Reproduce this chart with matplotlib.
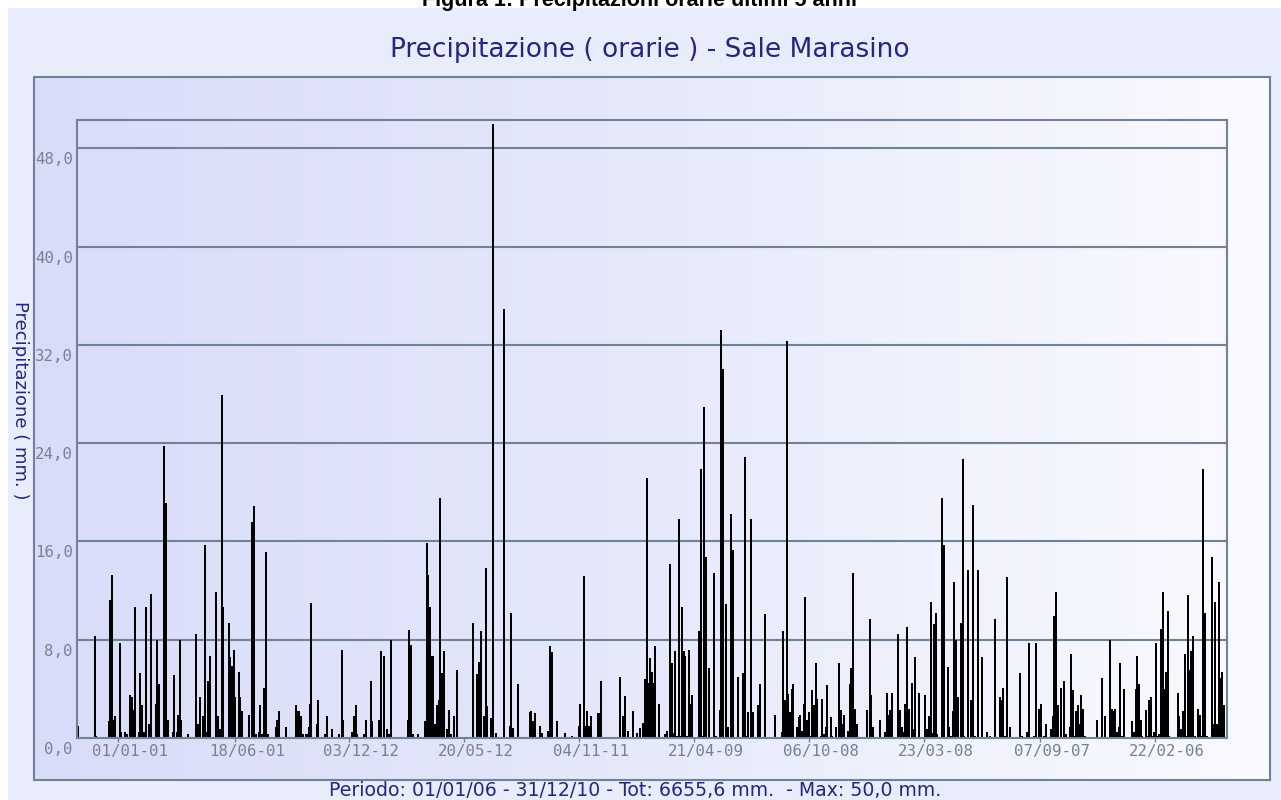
import matplotlib
matplotlib.use("Agg")
import matplotlib.pyplot as plt
import numpy as np
from matplotlib.patches import Rectangle
from matplotlib.colors import LinearSegmentedColormap
from matplotlib.transforms import ScaledTranslation

# ---------------- data (time index along the 5-year period, hourly precipitation mm) -------------
t = [1.0, 18.3, 19.3, 31.7, 33.3, 35.0, 36.7, 38.3, 43.3, 44.3, 48.3, 50.0, 53.3, 55.0, 56.7, 58.3,
     61.7, 63.3, 65.0, 66.7, 68.7, 71.7, 73.7, 78.7, 80.3, 81.7, 87.3, 88.7, 90.7, 96.0, 97.3, 100.0,
     101.0, 102.7, 104.3, 111.0, 119.3, 121.0, 122.7, 126.0, 127.7, 129.3, 131.0, 132.7, 139.3, 141.0,
     142.7, 144.7, 146.0, 151.7, 153.3, 155.0, 156.7, 158.3, 161.7, 163.3, 165.0, 171.7, 175.0, 177.0,
     178.7, 181.7, 183.3, 185.0, 187.3, 189.0, 190.7, 199.0,
     200.3, 202.0, 209.3, 218.7, 220.3, 222.0, 224.3, 226.3, 228.7, 230.3, 232.0, 233.0, 234.3, 239.7,
     241.3, 248.0, 249.7, 254.7, 262.0, 265.3, 266.3, 275.3, 277.0, 278.7, 280.3, 287.0, 288.7, 293.7,
     295.0, 302.0, 303.7, 307.0, 310.3, 312.0, 313.7, 331.0, 332.3, 334.0, 335.7, 341.3, 347.7, 349.7,
     351.0, 352.7, 354.3, 356.0, 358.0, 360.0, 361.7, 363.3, 364.7, 366.7, 370.3, 371.7, 373.7, 376.7,
     380.0, 396.0,
     400.0, 401.7, 403.7, 406.7, 408.7, 410.3, 414.0, 415.7, 419.0, 427.3, 432.7, 434.3, 436.0, 441.0,
     452.7, 454.3, 456.0, 458.0, 463.0, 464.7, 471.3, 473.3, 475.0, 480.0, 488.3, 495.0, 501.7, 503.3,
     507.0, 508.7, 510.3, 512.0, 513.7, 520.7, 522.3, 524.0, 542.7, 546.0, 547.7, 551.0, 556.3, 559.7,
     563.0, 566.3, 568.0, 569.7, 571.3, 573.0, 574.7, 576.3, 578.3, 581.7, 588.3, 590.0, 593.3,
     595.0, 597.0, 598.3, 600.0, 602.0, 603.7, 605.0, 606.7, 608.3, 610.0, 612.0, 613.3, 615.0, 622.0,
     623.7, 625.3, 627.0, 628.7, 632.0, 637.0, 638.7, 642.7, 644.0, 645.7, 649.0, 650.7, 654.0, 655.7,
     661.0, 666.0, 667.7, 669.3, 671.0, 674.3, 676.0, 681.0, 683.0, 688.3, 698.3, 705.0, 706.3, 708.0,
     709.7, 711.3, 713.0, 714.7, 716.3, 719.7, 721.7, 723.3, 725.0, 726.7, 728.3, 730.0, 731.7, 733.3,
     735.0, 736.7, 738.7, 740.3, 743.7, 745.3, 747.0, 748.7, 750.3, 753.7, 755.3, 758.7, 762.3, 764.0,
     765.7, 767.3, 771.0, 772.7, 774.3, 776.0, 777.7, 779.7, 790.3,
     792.7, 794.3, 796.3, 803.0, 808.0, 809.7, 811.3, 813.0, 814.7, 821.3, 823.0, 824.7, 826.3, 828.3,
     830.0, 831.7, 835.0, 836.7, 838.3, 841.7, 848.3, 850.0, 851.7, 853.7, 855.3, 857.0, 858.7, 860.3,
     865.3, 867.0, 870.7, 872.3, 874.0, 875.7, 877.3, 879.0, 880.7, 884.0, 885.7, 887.3, 891.0, 894.3,
     896.0, 897.7, 901.3, 904.7, 909.7, 913.0, 918.0, 923.0, 924.7, 926.3, 928.0, 930.3, 933.3, 943.3,
     945.0, 950.3, 952.0, 957.0, 958.7, 962.0, 963.7, 967.0, 969.0, 974.0, 975.7, 977.3, 979.0, 980.7,
     984.0, 987.0,
     989.3, 992.7, 994.3, 996.0, 997.7, 999.3, 1001.0, 1002.7, 1004.3, 1006.0, 1007.7, 1019.7, 1024.7,
     1028.0, 1033.3, 1035.0, 1036.7, 1038.3, 1040.0, 1041.7, 1043.3, 1045.0, 1047.0, 1055.3, 1057.0,
     1058.7, 1060.3, 1062.0, 1063.7, 1065.3, 1068.7, 1070.3, 1072.0, 1073.7, 1075.3, 1077.0, 1079.0,
     1080.7, 1082.3, 1084.0, 1085.7, 1087.3, 1089.0, 1090.7, 1092.3, 1100.7, 1102.3, 1104.0, 1105.7,
     1107.7, 1109.3, 1111.0, 1112.7, 1114.3, 1116.0, 1117.7, 1121.0, 1122.7, 1124.3, 1126.3, 1128.0,
     1129.7, 1134.7, 1136.3, 1138.3, 1140.0, 1141.7, 1143.3, 1145.0, 1146.7]

mm = [1.0, 8.3, 0.2, 1.4, 11.2, 13.3, 1.5, 1.8, 7.7, 0.5, 0.5, 0.3, 3.5, 3.3, 2.3, 10.7,
      0.5, 5.3, 2.7, 0.5, 10.7, 1.1, 11.7, 2.8, 8.0, 4.4, 23.8, 19.1, 1.5, 0.5, 5.1, 0.5,
      1.9, 8.0, 1.5, 0.3, 8.5, 1.1, 3.3, 1.8, 15.7, 0.5, 4.6, 6.7, 11.9, 1.8,
      0.7, 27.9, 10.7, 9.4, 6.6, 5.9, 7.2, 3.3, 5.4, 3.3, 2.2, 1.9, 17.6, 18.9,
      0.3, 0.5, 2.7, 0.3, 4.1, 15.1, 0.3, 0.9,
      1.5, 2.2, 0.9, 2.7, 2.2, 2.2, 1.8, 0.3, 0.3, 0.3, 0.9, 2.8, 11.0, 1.1,
      3.1, 0.3, 1.8, 0.7, 0.3, 7.2, 1.5, 0.5, 1.8, 2.7, 0.3, 0.3, 1.5, 4.6,
      1.4, 1.5, 7.1, 6.7, 0.7, 0.3, 8.0, 1.5, 8.8, 7.6, 0.3, 0.3, 1.4, 15.9,
      13.3, 10.7, 6.7, 6.7, 1.1, 2.7, 3.1, 19.5, 5.3, 7.1, 0.7, 2.3, 0.3, 1.8,
      5.5, 9.4,
      5.2, 6.2, 8.7, 1.8, 13.8, 2.6, 1.6, 50.0, 0.4, 34.9, 1.0, 10.2, 0.8, 4.4,
      2.1, 2.2, 1.4, 2.0, 1.0, 0.4, 0.6, 7.5, 7.0, 1.4, 0.4, 0.2, 1.0, 2.8,
      13.2, 1.0, 2.2, 1.0, 1.8, 2.0, 2.0, 4.6, 5.0, 1.8, 3.4, 0.6, 2.2, 0.4,
      0.8, 1.2, 4.8, 21.2, 4.5, 6.5, 5.4, 4.5, 7.5, 2.8, 0.3, 0.6, 14.2,
      6.1, 0.4, 7.1, 0.2, 17.8, 0.2, 10.7, 7.1, 6.7, 0.2, 7.2, 2.8, 3.5, 8.7,
      21.9, 0.2, 26.9, 14.7, 5.7, 13.4, 0.2, 2.3, 33.2, 30.0, 10.9, 0.9, 18.2, 15.3,
      5.0, 5.3, 22.9, 0.2, 2.1, 17.8, 2.1, 2.7, 4.4, 10.1, 1.9, 0.5, 8.7, 3.1,
      32.3, 3.6, 2.1, 4.0, 4.4, 0.9, 1.7, 1.9, 0.6, 2.8, 11.5, 1.5, 2.1, 0.2,
      3.9, 2.7, 6.1, 3.2, 0.2, 3.2, 0.3, 0.9, 4.3, 1.7, 0.2, 0.9, 6.1, 2.3,
      1.1, 1.9, 0.6, 4.4, 5.7, 13.4, 2.4, 1.1, 2.3,
      9.7, 3.5, 0.9, 1.5, 0.5, 3.7, 1.9, 2.3, 3.7, 8.5, 2.3, 0.9, 0.5, 2.8,
      9.0, 2.4, 4.5, 0.7, 6.6, 3.7, 3.5, 0.7, 1.8, 11.1, 0.4, 9.3, 10.2, 0.3,
      19.5, 15.7, 5.8, 0.9, 0.2, 2.2, 12.7, 8.0, 3.3, 9.4, 22.7, 0.2, 13.7, 3.1,
      19.0, 0.2, 13.7, 6.6, 0.5, 0.2, 9.7, 3.3, 3.1, 4.1, 0.2, 13.1, 0.9, 5.3,
      0.2, 0.5, 7.7, 0.2, 7.7, 2.4, 2.8, 0.2, 1.1, 0.7, 1.8, 9.9, 11.9, 2.7,
      4.1, 4.6,
      0.3, 0.9, 6.8, 3.9, 0.2, 2.2, 2.7, 1.1, 3.5, 2.4, 0.2, 1.5, 4.9,
      1.8, 8.0, 2.4, 2.2, 2.4, 0.5, 0.9, 6.1, 0.2, 4.0, 1.4, 0.5,
      4.0, 6.7, 4.4, 1.5, 0.2, 2.3, 0.2, 3.1, 3.3, 0.2, 0.5, 7.7,
      0.2, 0.3, 8.9, 11.9, 4.0, 5.4, 10.3, 0.2, 3.7, 1.8, 0.7, 2.2,
      6.8, 0.2, 11.6, 5.5, 7.1, 8.3, 0.2, 2.4, 1.9, 0.2, 21.9, 10.2,
      0.2, 14.7, 1.1, 11.1, 1.1, 12.7, 4.9, 5.4, 2.7]

tick_pos = [41, 158, 272, 387, 502, 617, 732, 847, 963, 1078]
tick_labels = ["01/01-01", "18/06-01", "03/12-12", "20/05-12", "04/11-11",
               "21/04-09", "06/10-08", "23/03-08", "07/09-07", "22/02-06"]
y_ticks = [0, 8, 16, 24, 32, 40, 48]
y_tick_labels = ["0,0", "8,0", "16,0", "24,0", "32,0", "40,0", "48,0"]

title = "Precipitazione ( orarie ) - Sale Marasino"
caption = "Figura 1: Precipitazioni orarie ultimi 5 anni"
footer = "Periodo: 01/01/06 - 31/12/10 - Tot: 6655,6 mm.  - Max: 50,0 mm."
ylabel = "Precipitazione ( mm. )"

# ---------------- layout ----------------
W, H = 1281, 800
DPI = 100
fig = plt.figure(figsize=(W / DPI, H / DPI), dpi=DPI)
fig.patch.set_facecolor("white")

def fx(px):
    return px / W

def fy(py):
    return 1 - py / H

FRAME = "#6F8296"
NAVY = "#262680"
GREY = "#78828F"

# outer lavender area
fig.patches.append(Rectangle((fx(8), 0), 1 - fx(8), fy(8), transform=fig.transFigure,
                             facecolor="#E9ECFA", edgecolor="none", zorder=-5))

# inner gradient panel
bg = fig.add_axes([fx(34), fy(780), fx(1270) - fx(34), fy(77) - fy(780)])
cmap = LinearSegmentedColormap.from_list("g", ["#D8DCF8", "#E6E9FA", "#FAFBFF"])
bg.imshow(np.linspace(0, 1, 256)[None, :], aspect="auto", cmap=cmap, extent=[0, 1, 0, 1])
bg.set_xticks([]); bg.set_yticks([])
for s in bg.spines.values():
    s.set_color(FRAME); s.set_linewidth(1.5)
bg.set_zorder(0)

# main plot
ax = fig.add_axes([fx(77), fy(738), fx(1227) - fx(77), fy(120) - fy(738)])
ax.set_zorder(1)
ax.patch.set_alpha(0)
ax.set_xlim(0, 1150)
ax.set_ylim(0, 50.3)
for v in y_ticks[1:]:
    ax.axhline(v, color=FRAME, lw=1.5, zorder=1)
ax.bar(t, mm, width=1.9, color="black", edgecolor="none", zorder=2, clip_on=True)
for s in ax.spines.values():
    s.set_color(FRAME); s.set_linewidth(1.5)

ax.set_xticks(tick_pos)
ax.set_xticklabels(tick_labels, family="DejaVu Sans Mono", fontsize=11.3, color=GREY)
ax.tick_params(axis="x", length=3, width=1, color=FRAME, pad=1)
for lab in ax.get_xticklabels():
    lab.set_transform(lab.get_transform() + ScaledTranslation(12 / DPI, 0, fig.dpi_scale_trans))

ax.set_yticks(y_ticks)
ax.set_yticklabels(y_tick_labels, family="DejaVu Sans Mono", fontsize=11.3, color=GREY)
ax.tick_params(axis="y", length=0, pad=3)
for lab in ax.get_yticklabels():
    lab.set_transform(lab.get_transform() + ScaledTranslation(0, -10 / DPI, fig.dpi_scale_trans))

# texts
fig.text(fx(650), fy(50), title, ha="center", va="center", fontsize=19, color=NAVY,
         family="DejaVu Sans")
fig.text(fx(640), fy(6), caption, ha="center", va="baseline", fontsize=15.5, color="black",
         family="Liberation Sans", fontweight="bold")
fig.text(fx(635), fy(790), footer, ha="center", va="center", fontsize=13.6, color=NAVY,
         family="DejaVu Sans")
fig.text(fx(20), fy(400), ylabel, ha="center", va="center", rotation=-90, fontsize=13,
         color=NAVY, family="DejaVu Sans")

fig.savefig("out.png", dpi=DPI)
